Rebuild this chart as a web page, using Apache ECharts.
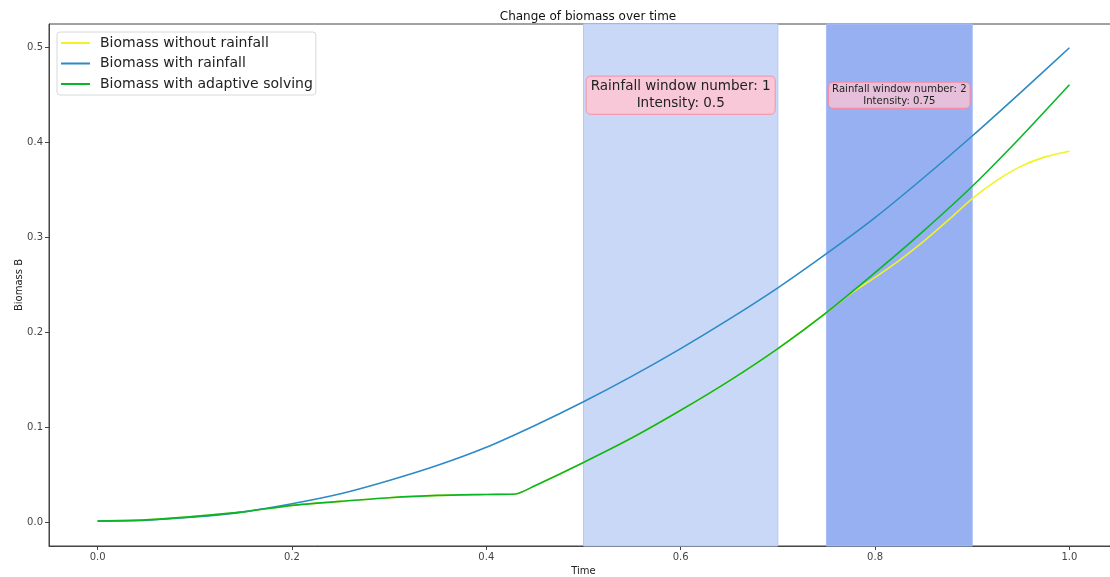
<!DOCTYPE html>
<html>
<head>
<meta charset="utf-8">
<script src="https://cdn.jsdelivr.net/npm/echarts@6/dist/echarts.min.js"></script>
<style>html,body{margin:0;padding:0;background:#fff}#c{width:1110px;height:577px}</style>
</head>
<body>
<div id="c"></div>
<script>
// ---- data ----
const timeA = [0,0.05,0.1,0.15,0.2,0.25,0.3,0.35,0.4,0.45,0.5,0.55,0.6,0.65,0.7,0.75,0.8,0.85,0.9,0.95,1.0];
const biomassRain = [0.0012,0.0022,0.0055,0.011,0.0195,0.030,0.044,0.060,0.079,0.102,0.127,0.154,0.183,0.214,0.247,0.283,0.321,0.363,0.407,0.453,0.500];
const timeB = [0,0.05,0.1,0.15,0.2,0.25,0.3,0.35,0.4,0.43,0.45,0.5,0.55,0.6,0.65,0.7,0.75,0.8,0.85,0.9,0.95,1.0];
const biomassAdaptive = [0.0013,0.0025,0.0062,0.011,0.0178,0.022,0.0258,0.0283,0.0293,0.0298,0.0385,0.063,0.089,0.118,0.149,0.183,0.221,0.263,0.307,0.354,0.406,0.461];
const timeC = [0,0.05,0.1,0.15,0.2,0.25,0.3,0.35,0.4,0.43,0.45,0.5,0.55,0.6,0.65,0.7,0.75,0.775,0.8,0.825,0.85,0.875,0.9,0.925,0.95,0.975,1.0];
const biomassNoRain = [0.0013,0.0025,0.0062,0.011,0.0178,0.022,0.0258,0.0283,0.0293,0.0298,0.0385,0.063,0.089,0.118,0.149,0.183,0.221,0.241,0.258,0.276,0.296,0.318,0.341,0.360,0.375,0.385,0.391];
const windows = [[0.5,0.7],[0.75,0.9]];
const windowLabels = ["Rainfall window number: 1\nIntensity: 0.5","Rainfall window number: 2\nIntensity: 0.75"];
const labelPos = [[0.6,0.45],[0.825,0.45]];
const xTicks = [0,0.2,0.4,0.6,0.8,1.0];
const yTicks = [0,0.1,0.2,0.3,0.4,0.5];
const seriesNames = ["Biomass without rainfall","Biomass with rainfall","Biomass with adaptive solving"];

const zip = (a,b)=>a.map((v,i)=>[v,b[i]]);
const FONT = "DejaVu Sans";
const chart = echarts.init(document.getElementById('c'), null, {renderer:'canvas'});
chart.setOption({
  animation:false,
  backgroundColor:'#fff',
  textStyle:{fontFamily:FONT},
  title:{text:'Change of biomass over time',left:583,top:6,textAlign:'center',
    textStyle:{fontFamily:FONT,fontSize:12,fontWeight:'normal',color:'#111'}},
  grid:{left:49,top:24,width:1069,height:522,show:true,borderColor:'#444',borderWidth:1,containLabel:false,outerBoundsMode:'none'},
  legend:{left:57,top:32,orient:'vertical',backgroundColor:'rgba(255,255,255,0.85)',borderColor:'#d8d8d8',borderWidth:1,borderRadius:3,
    padding:[4,3,4,4],itemGap:6.5,itemWidth:29,itemHeight:2,icon:'rect',
    textStyle:{fontFamily:FONT,fontSize:14,color:'#222',padding:[0,0,0,5]},data:seriesNames},
  xAxis:{type:'value',min:-0.05,max:1.05,name:'Time',nameLocation:'middle',nameGap:20,
    nameTextStyle:{fontFamily:FONT,fontSize:10,color:'#222'},
    axisLine:{show:true,onZero:false,lineStyle:{color:'#444'}},
    axisTick:{show:true,customValues:xTicks,length:4,lineStyle:{color:'#444'}},
    axisLabel:{customValues:xTicks,fontFamily:FONT,fontSize:10,color:'#444',margin:6,formatter:v=>v.toFixed(1)},
    splitLine:{show:false}},
  yAxis:{type:'value',min:-0.025,max:0.525,name:'Biomass B',nameLocation:'middle',nameGap:25,nameRotate:90,nameMoveOverlap:false,
    nameTextStyle:{fontFamily:FONT,fontSize:10,color:'#222'},
    axisLine:{show:true,onZero:false,lineStyle:{color:'#444'}},
    axisTick:{show:true,customValues:yTicks,length:4,lineStyle:{color:'#444'}},
    axisLabel:{customValues:yTicks,fontFamily:FONT,fontSize:10,color:'#444',margin:6,formatter:v=>v.toFixed(1)},
    splitLine:{show:false}},
  series:[
    {name:seriesNames[0],type:'line',data:zip(timeC,biomassNoRain),showSymbol:false,symbol:'none',smooth:0.25,
      lineStyle:{color:'#f2f224',width:1.6},itemStyle:{color:'#f2f224'},z:2,
      markArea:{silent:true,z:1,data:[
        [{xAxis:windows[0][0],itemStyle:{color:'#c9d8f7',borderColor:'#b4c8f4',borderWidth:1}},{xAxis:windows[0][1]}],
        [{xAxis:windows[1][0],itemStyle:{color:'#96b0f1',borderColor:'#a6bcf3',borderWidth:1}},{xAxis:windows[1][1]}]
      ]}},
    {name:seriesNames[1],type:'line',data:zip(timeA,biomassRain),showSymbol:false,symbol:'none',smooth:0.25,
      lineStyle:{color:'#2c8ac6',width:1.6},itemStyle:{color:'#2c8ac6'},z:3,
      markPoint:{silent:true,symbol:'circle',symbolSize:0,data:[
        {coord:labelPos[0],label:{show:true,position:'inside',formatter:windowLabels[0],align:'center',verticalAlign:'middle',
          fontFamily:FONT,fontSize:13.5,lineHeight:16.5,color:'#222',backgroundColor:'#f8c8d8',borderColor:'#f39bb0',borderWidth:1.2,borderRadius:4,padding:[2,4,2,4]}},
        {coord:labelPos[1],label:{show:true,position:'inside',formatter:windowLabels[1],align:'center',verticalAlign:'middle',
          fontFamily:FONT,fontSize:10.1,lineHeight:11.5,color:'#222',backgroundColor:'#e6c0da',borderColor:'#f08eaa',borderWidth:1.2,borderRadius:4,padding:[1,3,1,3]}}
      ]}},
    {name:seriesNames[2],type:'line',data:zip(timeB,biomassAdaptive),showSymbol:false,symbol:'none',smooth:0.25,
      lineStyle:{color:'#0bb52a',width:1.6},itemStyle:{color:'#0bb52a'},z:4}
  ]
});
</script>
</body>
</html>
